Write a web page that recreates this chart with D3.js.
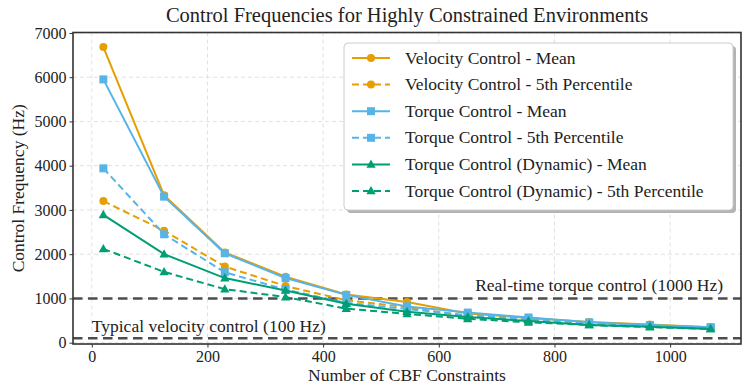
<!DOCTYPE html>
<html><head><meta charset="utf-8"><script src="https://cdn.jsdelivr.net/npm/d3@7"></script></head>
<body><svg class="chart" width="743" height="385"></svg>
<script>
// data
const constraints = [20, 125, 230, 335, 440, 545, 650, 755, 860, 965, 1070];
const velocityMean = [6680, 3330, 2040, 1490, 1090, 920, 660, 560, 470, 410, 350];
const velocityP5 = [3200, 2530, 1720, 1280, 960, 800, 600, 500, 430, 380, 330];
const torqueMean = [5950, 3300, 2020, 1460, 1080, 820, 680, 570, 460, 400, 350];
const torqueP5 = [3940, 2450, 1590, 1200, 900, 760, 620, 530, 440, 390, 340];
const dynamicMean = [2890, 2000, 1460, 1180, 880, 700, 580, 490, 400, 360, 310];
const dynamicP5 = [2120, 1600, 1210, 1030, 770, 650, 540, 460, 400, 350, 310];
const xTicks = [0, 200, 400, 600, 800, 1000];
const yTicks = [0, 1000, 2000, 3000, 4000, 5000, 6000, 7000];
const refLines = [
    { value: 1000, label: 'Real-time torque control (1000 Hz)' },
    { value: 100, label: 'Typical velocity control (100 Hz)' }
];

const series = [
    { name: 'Velocity Control - Mean', values: velocityMean, color: '#E69F00', dashed: false, marker: 'circle' },
    { name: 'Velocity Control - 5th Percentile', values: velocityP5, color: '#E69F00', dashed: true, marker: 'circle' },
    { name: 'Torque Control - Mean', values: torqueMean, color: '#56B4E9', dashed: false, marker: 'square' },
    { name: 'Torque Control - 5th Percentile', values: torqueP5, color: '#56B4E9', dashed: true, marker: 'square' },
    { name: 'Torque Control (Dynamic) - Mean', values: dynamicMean, color: '#009E73', dashed: false, marker: 'triangle' },
    { name: 'Torque Control (Dynamic) - 5th Percentile', values: dynamicP5, color: '#009E73', dashed: true, marker: 'triangle' }
];

const width = 743, height = 385;
const margin = { top: 32.5, right: 2, bottom: 41, left: 73 };
const faces = ['Liberation Serif'];
const face = faces[0];

d3.select('body').style('margin', '0px');
const svg = d3.select('svg.chart').style('display', 'block');

const x = d3.scaleLinear()
    .domain([-32.5, 1122.5])
    .range([margin.left, width - margin.right]);

const y = d3.scaleLinear()
    .domain([-30, 7010])
    .range([height - margin.bottom, margin.top]);

function label(sel, size) { // shared text styling
    return sel.attr('font-size', size)
        .style('font-family', `"${face}", serif`)
        .attr('fill', '#222');
}

// grid
const grid = svg.append('g').attr('stroke', '#d9d9d9').attr('stroke-width', 0.8).attr('stroke-dasharray', '4,3');
grid.selectAll('.gx').data(xTicks).join('line')
    .attr('x1', d => x(d)).attr('x2', d => x(d))
    .attr('y1', margin.top).attr('y2', height - margin.bottom);
grid.selectAll('.gy').data(yTicks).join('line')
    .attr('x1', margin.left).attr('x2', width - margin.right)
    .attr('y1', d => y(d)).attr('y2', d => y(d));

// reference lines
const refs = svg.append('g');
refs.selectAll('line').data(refLines).join('line')
    .attr('x1', margin.left).attr('x2', width - margin.right)
    .attr('y1', d => y(d.value)).attr('y2', d => y(d.value))
    .attr('stroke', '#4d4d4d')
    .attr('stroke-width', 2.5)
    .attr('stroke-dasharray', '9.5,5.5');

// markers
function markerPath(type, size) {
    if (type === 'circle') return d3.symbol(d3.symbolCircle, size * size * Math.PI / 4)();
    if (type === 'square') return d3.symbol(d3.symbolSquare, size * size)();
    return `M0,${-size * 0.62}L${size * 0.58},${size * 0.42}L${-size * 0.58},${size * 0.42}Z`;
}

const line = d3.line()
    .x((d, i) => x(constraints[i]))
    .y(d => y(d));

const plot = svg.append('g');
series.forEach(s => {
    const g = plot.append('g');
    g.append('path')
        .datum(s.values)
        .attr('d', line)
        .attr('fill', 'none')
        .attr('stroke', s.color)
        .attr('stroke-width', 2)
        .attr('stroke-dasharray', s.dashed ? '7,4' : null);
    g.selectAll('path.m').data(s.values).join('path')
        .attr('class', 'm')
        .attr('d', markerPath(s.marker, 8))
        .attr('transform', (d, i) => `translate(${x(constraints[i])},${y(d)})`)
        .attr('fill', s.color);
});

// reference labels
label(svg.append('text'), 17.5)
    .attr('x', width - margin.right - 18)
    .attr('y', y(1000) - 7)
    .attr('text-anchor', 'end')
    .text(refLines[0].label);
label(svg.append('text'), 17.5)
    .attr('x', x(0))
    .attr('y', y(100) - 6)
    .text(refLines[1].label);

// axes frame
svg.append('rect')
    .attr('x', margin.left).attr('y', margin.top)
    .attr('width', width - margin.right - margin.left)
    .attr('height', height - margin.bottom - margin.top)
    .attr('fill', 'none')
    .attr('stroke', '#333')
    .attr('stroke-width', 1.6);

const xAxis = svg.append('g')
    .attr('transform', `translate(0,${height - margin.bottom})`)
    .call(d3.axisBottom(x).tickValues(xTicks).tickFormat(d3.format('d')).tickSize(3.5).tickPadding(3));
const yAxis = svg.append('g')
    .attr('transform', `translate(${margin.left},0)`)
    .call(d3.axisLeft(y).tickValues(yTicks).tickFormat(d3.format('d')).tickSize(3.5).tickPadding(3));
[xAxis, yAxis].forEach(a => {
    a.attr('font-family', null);
    a.select('.domain').remove();
    a.selectAll('line').attr('stroke', '#333');
    label(a.selectAll('text'), 16);
});

// titles
label(svg.append('text'), 20.5)
    .attr('x', (margin.left + width - margin.right) / 2)
    .attr('y', 22)
    .attr('text-anchor', 'middle')
    .text('Control Frequencies for Highly Constrained Environments');
label(svg.append('text'), 17.5)
    .attr('x', (margin.left + width - margin.right) / 2)
    .attr('y', 381)
    .attr('text-anchor', 'middle')
    .text('Number of CBF Constraints');
label(svg.append('text'), 17.5)
    .attr('transform', `translate(24,${(margin.top + height - margin.bottom) / 2}) rotate(-90)`)
    .attr('text-anchor', 'middle')
    .text('Control Frequency (Hz)');

// legend
const lg = svg.append('g').attr('transform', 'translate(344,43)');
lg.append('rect')
    .attr('x', 3).attr('y', 3)
    .attr('width', 389).attr('height', 167)
    .attr('rx', 4)
    .attr('fill', '#b3b3b3');
lg.append('rect')
    .attr('width', 389).attr('height', 167)
    .attr('rx', 4)
    .attr('fill', '#fff')
    .attr('stroke', '#ccc')
    .attr('stroke-width', 1);
const rows = lg.selectAll('g.row').data(series).join('g')
    .attr('class', 'row')
    .attr('transform', (d, i) => `translate(0,${15 + i * 26.6})`);
rows.append('line')
    .attr('x1', 8).attr('x2', 46)
    .attr('stroke', d => d.color)
    .attr('stroke-width', 2)
    .attr('stroke-dasharray', d => d.dashed ? '7,4' : null);
rows.append('path')
    .attr('d', d => markerPath(d.marker, 8))
    .attr('transform', 'translate(27,0)')
    .attr('fill', d => d.color);
label(rows.append('text'), 17.5)
    .attr('x', 61)
    .attr('y', 5.5)
    .text(d => d.name);
</script>
</body>
</html>
